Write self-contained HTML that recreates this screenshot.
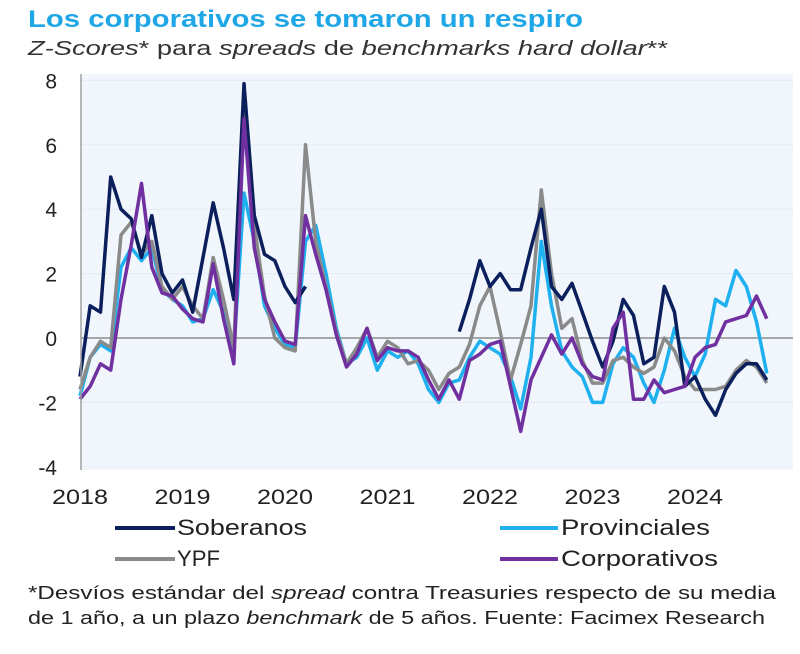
<!DOCTYPE html>
<html><head><meta charset="utf-8"><style>
body{margin:0;width:800px;height:649px;background:#fff;overflow:hidden;font-family:"Liberation Sans",sans-serif}
</style></head><body>
<svg width="800" height="649" viewBox="0 0 800 649" id="chart">
<text x="28" y="27" font-size="24" font-weight="bold" fill="#1fa6e6" textLength="555" lengthAdjust="spacingAndGlyphs">Los corporativos se tomaron un respiro</text>
<text x="28" y="55" font-size="20" fill="#333" textLength="640" lengthAdjust="spacingAndGlyphs"><tspan font-style="italic">Z-Scores</tspan>* para <tspan font-style="italic">spreads</tspan> de <tspan font-style="italic">benchmarks hard dollar</tspan>**</text>
<rect x="81" y="74" width="712" height="396" fill="#f1f6fc"/>
<g id="grid"></g>
<g id="yticks"></g>
<g id="xticks"></g>
<g id="series"></g>
<line x1="81" y1="74" x2="81" y2="470" stroke="#a0a0a0" stroke-width="1.5"/>
<g font-size="22" fill="#222">
<line x1="115" y1="528" x2="175" y2="528" stroke="#0b1f5c" stroke-width="4"/>
<text x="177" y="535" textLength="130" lengthAdjust="spacingAndGlyphs">Soberanos</text>
<line x1="500" y1="528" x2="558" y2="528" stroke="#1fb0f0" stroke-width="4"/>
<text x="561" y="535" textLength="149" lengthAdjust="spacingAndGlyphs">Provinciales</text>
<line x1="115" y1="559" x2="175" y2="559" stroke="#8a8a8a" stroke-width="4"/>
<text x="177" y="566" textLength="43" lengthAdjust="spacingAndGlyphs">YPF</text>
<line x1="500" y1="559" x2="558" y2="559" stroke="#7030a0" stroke-width="4"/>
<text x="561" y="566" textLength="157" lengthAdjust="spacingAndGlyphs">Corporativos</text>
</g>
<text x="28" y="599" font-size="18" fill="#222" textLength="748" lengthAdjust="spacingAndGlyphs">*Desvíos estándar del <tspan font-style="italic">spread</tspan> contra Treasuries respecto de su media</text>
<text x="28" y="624" font-size="18" fill="#222" textLength="737" lengthAdjust="spacingAndGlyphs">de 1 año, a un plazo <tspan font-style="italic">benchmark</tspan> de 5 años. Fuente: Facimex Research</text>
</svg>
<script>
const yTicks=[8,6,4,2,0,-2,-4];
const xTickLabels=["2018","2019","2020","2021","2022","2023","2024"];
const startYear=2018, stepYears=0.1;
const soberanos=[-1.2,1.0,0.8,5.0,4.0,3.7,2.5,3.8,2.0,1.4,1.8,0.8,2.5,4.2,2.8,1.2,7.9,3.8,2.6,2.4,1.6,1.1,1.6,null,null,null,null,null,null,null,null,null,null,null,null,null,null,0.2,1.2,2.4,1.6,2.0,1.5,1.5,2.8,4.0,1.6,1.2,1.7,0.8,-0.1,-0.9,-0.1,1.2,0.7,-0.8,-0.6,1.6,0.8,-1.5,-1.2,-1.9,-2.4,-1.6,-1.1,-0.8,-0.8,-1.3];
const provinciales=[-1.8,-0.6,-0.2,-0.4,2.2,2.8,2.4,2.8,1.5,1.2,1.0,0.5,0.6,1.5,0.8,-0.4,4.5,3.0,1.0,0.3,-0.2,-0.3,3.0,3.5,2.0,0.3,-0.8,-0.6,0.0,-1.0,-0.4,-0.6,-0.4,-0.8,-1.6,-2.0,-1.4,-1.3,-0.6,-0.1,-0.3,-0.5,-1.2,-2.2,-0.6,3.0,1.0,-0.4,-0.9,-1.2,-2.0,-2.0,-0.8,-0.3,-0.6,-1.4,-2.0,-1.0,0.3,-0.6,-1.2,-0.5,1.2,1.0,2.1,1.6,0.5,-1.1];
const ypf=[-1.6,-0.6,-0.1,-0.3,3.2,3.6,2.6,3.0,1.6,1.2,1.6,1.0,0.6,2.5,1.2,-0.3,7.5,3.5,1.3,0.0,-0.3,-0.4,6.0,3.0,1.6,0.2,-0.8,-0.3,0.3,-0.6,-0.1,-0.3,-0.8,-0.7,-1.0,-1.6,-1.1,-0.9,-0.2,1.0,1.6,0.2,-1.3,-0.2,1.0,4.6,2.0,0.3,0.6,-0.7,-1.4,-1.4,-0.7,-0.6,-0.9,-1.1,-0.9,0.0,-0.4,-1.2,-1.6,-1.6,-1.6,-1.5,-1.0,-0.7,-0.9,-1.4];
const corporativos=[-1.9,-1.5,-0.8,-1.0,1.2,2.9,4.8,2.2,1.4,1.3,0.9,0.6,0.5,2.3,0.6,-0.8,6.8,2.8,1.2,0.5,-0.1,-0.2,3.8,2.6,1.5,0.1,-0.9,-0.5,0.3,-0.7,-0.3,-0.4,-0.4,-0.6,-1.3,-1.9,-1.3,-1.9,-0.7,-0.5,-0.2,-0.1,-1.5,-2.9,-1.3,-0.6,0.1,-0.5,0.0,-0.8,-1.2,-1.3,0.3,0.8,-1.9,-1.9,-1.3,-1.7,-1.6,-1.5,-0.6,-0.3,-0.2,0.5,0.6,0.7,1.3,0.6];

const NS="http://www.w3.org/2000/svg";
const yScale=v=>338-v*32.2;
const xScale=t=>80+(t-startYear)*102.5;
function mk(tag,attrs,parent){const e=document.createElementNS(NS,tag);for(const k in attrs)e.setAttribute(k,attrs[k]);parent.appendChild(e);return e;}
const grid=document.getElementById('grid'),yt=document.getElementById('yticks'),xt=document.getElementById('xticks'),ser=document.getElementById('series');
yTicks.forEach(v=>{
  const l=mk('line',{x1:81,x2:793,y1:yScale(v),y2:yScale(v),stroke:v===0?'#8c8c8c':'#e3ebf5','stroke-width':v===0?1.5:1},grid);
  
  
  const t=mk('text',{x:57,y:yScale(v)+8,'text-anchor':'end','font-size':21,fill:'#222'},yt);
  t.textContent=String(v);
  
  
});
xTickLabels.forEach(s=>{
  const t=mk('text',{x:xScale(+s),y:504,'text-anchor':'middle','font-size':21,fill:'#222',textLength:56,lengthAdjust:'spacingAndGlyphs'},xt);
  t.textContent=s;
  
  
});
function draw(arr,color,name){
  let d='',pen=false;
  arr.forEach((v,i)=>{
    if(v===null){pen=false;return;}
    const x=xScale(startYear+i*stepYears).toFixed(1),y=yScale(v).toFixed(1);
    d+=(pen?'L':'M')+x+' '+y;pen=true;
  });
  const p=mk('path',{d:d,fill:'none',stroke:color,'stroke-width':3.5,'stroke-linejoin':'round'},ser);
  
  
}
draw(provinciales,'#1fb0f0','series-provinciales');
draw(ypf,'#8a8a8a','series-ypf');
draw(soberanos,'#0b1f5c','series-soberanos');
draw(corporativos,'#7030a0','series-corporativos');
</script>
</body></html>
